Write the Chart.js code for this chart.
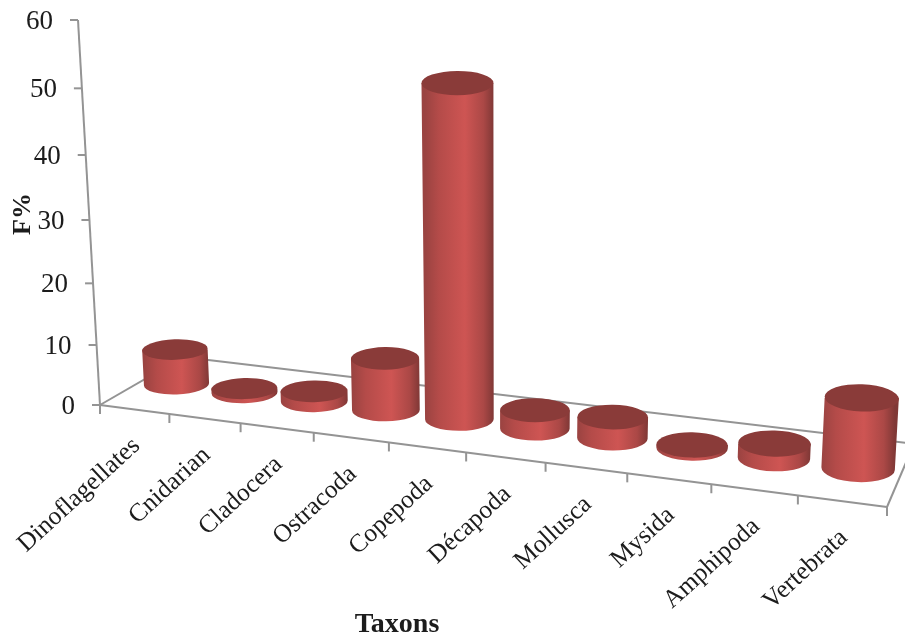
<!DOCTYPE html>
<html>
<head>
<meta charset="utf-8">
<title>Taxons</title>
<script src="https://cdn.jsdelivr.net/npm/chart.js@4"></script>
<style>
  body { margin: 0; background: #fff; }
  canvas { display: block; }
</style>
</head>
<body>
<canvas id="chart" width="905" height="640"></canvas>
<script>
const categories = ['Dinoflagellates', 'Cnidarian', 'Cladocera', 'Ostracoda', 'Copepoda', 'Décapoda', 'Mollusca', 'Mysida', 'Amphipoda', 'Vertebrata'];
const fValues = [6, 0.7, 1.7, 8.6, 52, 3, 3.4, 0.5, 2.3, 10.8];
const yMax = 60;
const yStep = 10;

const xTitle = 'Taxons';
const yTitle = 'F%';

const textColor = '#1c1c1c';
const lineColor = '#949494';
const topColor = '#8a3b39';
const serif = '"Liberation Serif"';

// floor plane of the 3d box, u goes along the categories and v goes to the back
function floorPoint(u, v) {
    const w = 1 - 0.13 * u + 0.0814 * v;
    return {
        x: (671.7 * u + 97.9 * v + 100) / w,
        y: (36.1 * u - 18.9 * v + 405) / w,
        scale: 1 / w
    };
}

// pixels above the floor for a y scale pixel, the upper part of the axis is stretched a bit
function liftFor(yScale, pixel) {
    const range = yScale.bottom - yScale.top;
    const t = (yScale.bottom - pixel) / range;
    return range * (0.922 * t + 0.078 * t * t);
}

// verticals lean out slightly towards the top
function raise(p, lift) {
    const h = lift * p.scale;
    return {
        x: p.x + (p.x - 500) * h / 7000,
        y: p.y - h,
        grow: 1 + h / 7000
    };
}

function strokeFloor(ctx, u1, v1, u2, v2) {
    const a = floorPoint(u1, v1);
    const b = floorPoint(u2, v2);
    ctx.beginPath();
    ctx.moveTo(a.x, a.y);
    ctx.lineTo(b.x, b.y);
    ctx.stroke();
}

const boxPlugin = {
    id: 'box',
    beforeDatasetsDraw(chart) {
        const ctx = chart.ctx;
        const yScale = chart.scales.y;
        ctx.save();
        ctx.strokeStyle = lineColor;
        ctx.lineWidth = 2;

        strokeFloor(ctx, 0, 0, 1, 0);
        strokeFloor(ctx, 0, 1, 1, 1);
        strokeFloor(ctx, 0, 0, 0, 1);
        strokeFloor(ctx, 1, 0, 1, 1);

        const corner = floorPoint(0, 0);
        const axisTop = raise(corner, liftFor(yScale, yScale.top));
        ctx.beginPath();
        ctx.moveTo(corner.x, corner.y);
        ctx.lineTo(axisTop.x, axisTop.y);
        ctx.stroke();

        // x ticks
        for (let i = 0; i <= categories.length; i++) {
            const p = floorPoint(i / categories.length, 0);
            ctx.beginPath();
            ctx.moveTo(p.x, p.y);
            ctx.lineTo(p.x, p.y + 9);
            ctx.stroke();
        }

        // y ticks and labels
        ctx.fillStyle = textColor;
        ctx.font = '27px ' + serif;
        ctx.textAlign = 'right';
        ctx.textBaseline = 'middle';
        yScale.ticks.forEach(function(tick) {
            const lift = liftFor(yScale, yScale.getPixelForValue(tick.value));
            const p = raise(corner, lift);
            ctx.beginPath();
            ctx.moveTo(p.x - 8, p.y);
            ctx.lineTo(p.x, p.y);
            ctx.stroke();
            ctx.fillText(tick.label, p.x - 25, p.y + 2);
        });
        ctx.restore();
    },
    afterDatasetsDraw(chart) {
        const ctx = chart.ctx;
        const xScale = chart.scales.x;
        const yScale = chart.scales.y;
        const area = chart.chartArea;

        chart.getDatasetMeta(0).data.forEach(function(bar) {
            const u = (bar.x - area.left) / (area.right - area.left);
            const base = floorPoint(u, 0.5);
            const top = raise(base, liftFor(yScale, bar.y));
            const rx = 33.7 * base.scale;
            const ry = rx * (0.31 + 0.06 * u);
            const tilt = -0.04 + 0.08 * u;

            const shade = ctx.createLinearGradient(base.x - rx, 0, base.x + rx, 0);
            shade.addColorStop(0, '#9a4341');
            shade.addColorStop(0.2, '#b44b49');
            shade.addColorStop(0.58, '#ce5553');
            shade.addColorStop(0.85, '#ab4846');
            shade.addColorStop(1, '#803836');

            ctx.save();
            ctx.fillStyle = shade;
            ctx.beginPath();
            ctx.ellipse(base.x, base.y, rx, ry, tilt, 0, Math.PI, false);
            ctx.lineTo(top.x - rx * top.grow, top.y);
            ctx.lineTo(top.x + rx * top.grow, top.y);
            ctx.closePath();
            ctx.fill();

            ctx.fillStyle = topColor;
            ctx.beginPath();
            ctx.ellipse(top.x, top.y, rx * top.grow, ry * top.grow, tilt, 0, Math.PI * 2);
            ctx.fill();
            ctx.restore();
        });

        // category labels follow the sloping front edge
        ctx.save();
        ctx.fillStyle = textColor;
        ctx.font = '25.5px ' + serif;
        ctx.textAlign = 'right';
        ctx.textBaseline = 'middle';
        xScale.getLabels().forEach(function(label, i) {
            const p = floorPoint((i + 0.5) / categories.length, 0);
            ctx.save();
            ctx.translate(p.x + 2, p.y + 33);
            ctx.rotate(-42.5 * Math.PI / 180);
            ctx.fillText(label, 0, 0);
            ctx.restore();
        });

        // axis titles
        ctx.font = 'bold 28px ' + serif;
        ctx.textAlign = 'center';
        ctx.fillText(xTitle, 397, 625);
        ctx.font = 'bold 26px ' + serif;
        ctx.translate(23, 214);
        ctx.rotate(-Math.PI / 2);
        ctx.fillText(yTitle, 0, 0);
        ctx.restore();
    }
};

new Chart(document.getElementById('chart'), {
    type: 'bar',
    data: {
        labels: categories,
        datasets: [
            {
                data: fValues,
                backgroundColor: 'transparent'
            }
        ]
    },
    options: {
        responsive: false,
        animation: false,
        layout: {
            padding: { left: 100, right: 18, top: 20, bottom: 235 }
        },
        plugins: {
            legend: { display: false },
            tooltip: { enabled: false }
        },
        scales: {
            x: {
                grid: { display: false, drawTicks: false },
                border: { display: false },
                ticks: { display: false }
            },
            y: {
                min: 0,
                max: yMax,
                grid: { display: false, drawTicks: false },
                border: { display: false },
                ticks: { display: false, stepSize: yStep }
            }
        }
    },
    plugins: [boxPlugin]
});
</script>
</body>
</html>
